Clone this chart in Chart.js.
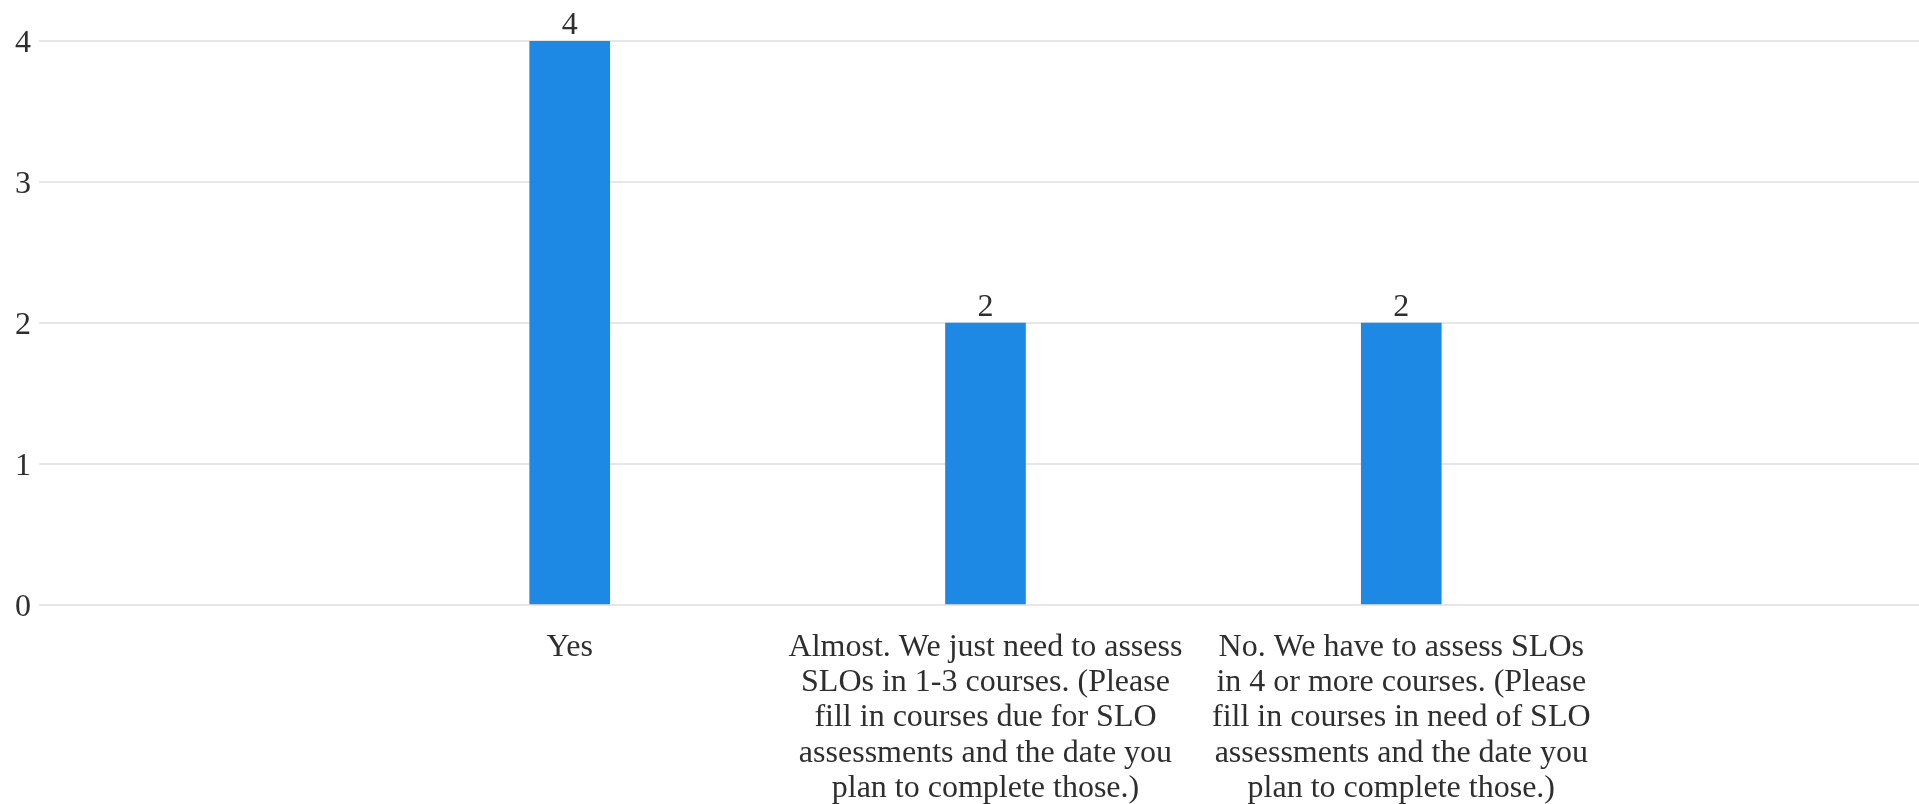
<!DOCTYPE html>
<html>
<head>
<meta charset="utf-8">
<script src="https://cdn.jsdelivr.net/npm/chart.js@4/dist/chart.umd.min.js"></script>
<style>
  html, body { margin: 0; padding: 0; background: #fff; }
  #wrap { width: 1919px; height: 804px; position: relative; }
</style>
</head>
<body>
<div id="wrap"><canvas id="answers"></canvas></div>
<script>
// answer options, already broken into lines
const categories = [
  ["Yes"],
  ["Almost. We just need to assess", "SLOs in 1-3 courses. (Please", "fill in courses due for SLO", "assessments and the date you", "plan to complete those.)"],
  ["No. We have to assess SLOs", "in 4 or more courses. (Please", "fill in courses in need of SLO", "assessments and the date you", "plan to complete those.)"]
];
const counts = [4, 2, 2];
const yTicks = [0, 1, 2, 3, 4];

const FONT = "'Liberation Serif', 'Times New Roman', serif";
const TEXT = "#2e2e2e";

// prints the count above every bar
const valueLabels = {
  id: "valueLabels",
  afterDatasetsDraw(chart) {
    const ctx = chart.ctx;
    const meta = chart.getDatasetMeta(0);
    ctx.save();
    ctx.font = "32px " + FONT;
    ctx.fillStyle = TEXT;
    ctx.textAlign = "center";
    ctx.textBaseline = "alphabetic";
    meta.data.forEach((bar, i) => {
      ctx.fillText(String(counts[i]), bar.x, bar.y - 7);
    });
    ctx.restore();
  }
};

new Chart(document.getElementById("answers"), {
  type: "bar",
  data: {
    datasets: [{
      data: counts.map((v, i) => ({ x: i, y: v })),
      backgroundColor: "#1e88e5",
      borderWidth: 0,
      barThickness: 80
    }]
  },
  options: {
    responsive: true,
    maintainAspectRatio: false,
    animation: false,
    layout: { padding: { top: 41, left: 7, right: 0, bottom: 0 } },
    plugins: {
      legend: { display: false },
      tooltip: { enabled: false }
    },
    scales: {
      x: {
        type: "linear",
        offset: false,
        min: -1.2764,
        max: 3.2452,
        grid: { display: false, drawTicks: false },
        border: { display: false },
        afterBuildTicks: (scale) => {
          scale.ticks = categories.map((c, i) => ({ value: i }));
        },
        afterFit: (scale) => { scale.height = 199; },
        ticks: {
          autoSkip: false,
          maxRotation: 0,
          padding: 25,
          color: TEXT,
          font: { family: FONT, size: 32, lineHeight: 1.1 },
          callback: (value) => categories[value]
        }
      },
      y: {
        min: 0,
        max: 4,
        afterBuildTicks: (scale) => {
          scale.ticks = yTicks.map(v => ({ value: v }));
        },
        grid: { color: "#e6e6e6", lineWidth: 2, drawTicks: false },
        border: { display: false },
        ticks: {
          padding: 8,
          labelOffset: 3,
          color: TEXT,
          font: { family: FONT, size: 32 }
        }
      }
    }
  },
  plugins: [valueLabels]
});
</script>
</body>
</html>
